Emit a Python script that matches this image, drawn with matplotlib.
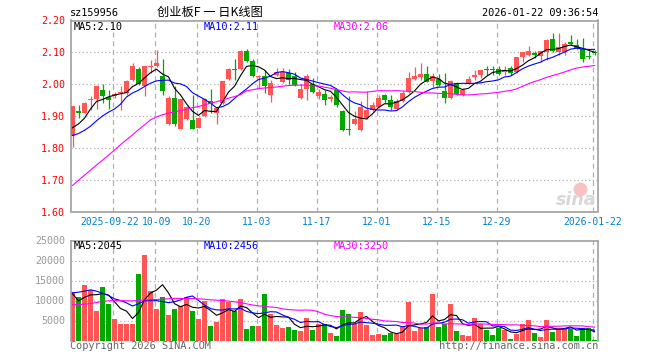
import matplotlib
matplotlib.use("Agg")
import matplotlib.pyplot as plt
import numpy as np

# ---------------- data ----------------
code = "sz159956"
title = "创业板F 一 日K线图"
stamp = "2026-01-22 09:36:54"

opens = [1.837, 1.917, 1.910, 1.949, 1.952, 1.983, 1.959, 1.962, 1.973, 1.973,
         2.014, 2.048, 1.993, 2.054, 2.056, 2.027, 1.875, 1.955, 1.860, 1.891,
         1.889, 1.863, 1.899, 1.946, 1.910, 1.941, 2.016, 2.048, 2.048, 2.103,
         2.072, 2.023, 2.025, 1.965, 2.030, 2.007, 2.035, 2.025, 1.957, 1.986,
         2.002, 1.962, 1.970, 1.952, 1.981, 1.917, 1.860, 1.876, 1.856, 1.894,
         1.920, 1.929, 1.965, 1.949, 1.923, 1.946, 1.976, 2.017, 2.022, 2.032,
         2.009, 2.017, 1.980, 1.955, 2.004, 1.965, 2.001, 2.023, 2.028, 2.049,
         2.049, 2.048, 2.038, 2.051, 2.037, 2.084, 2.093, 2.097, 2.088, 2.101,
         2.143, 2.101, 2.101, 2.131, 2.124, 2.110, 2.089, 2.102]
highs = [1.931, 1.936, 1.943, 1.962, 1.996, 2.002, 1.983, 1.975, 1.993, 2.014,
         2.067, 2.054, 2.058, 2.075, 2.106, 2.079, 1.962, 1.993, 1.954, 1.931,
         1.967, 1.897, 1.957, 1.985, 1.929, 2.011, 2.051, 2.079, 2.106, 2.112,
         2.079, 2.030, 2.046, 2.014, 2.051, 2.051, 2.048, 2.037, 1.999, 2.033,
         2.020, 1.985, 1.983, 1.967, 1.985, 1.920, 1.964, 1.915, 1.946, 1.978,
         1.943, 1.967, 1.969, 1.967, 1.952, 1.978, 2.037, 2.054, 2.065, 2.056,
         2.035, 2.032, 2.035, 2.014, 2.007, 1.988, 2.025, 2.043, 2.046, 2.058,
         2.058, 2.056, 2.056, 2.056, 2.084, 2.101, 2.121, 2.103, 2.105, 2.143,
         2.161, 2.161, 2.131, 2.155, 2.142, 2.145, 2.103, 2.106]
lows = [1.803, 1.894, 1.908, 1.920, 1.922, 1.941, 1.923, 1.957, 1.920, 1.967,
        2.009, 1.996, 1.962, 2.035, 2.054, 1.965, 1.873, 1.868, 1.858, 1.889,
        1.858, 1.861, 1.897, 1.908, 1.876, 1.939, 2.014, 2.014, 2.046, 2.070,
        2.023, 1.988, 1.973, 1.943, 2.025, 2.004, 1.999, 1.993, 1.952, 1.950,
        1.973, 1.952, 1.936, 1.943, 1.929, 1.852, 1.839, 1.871, 1.852, 1.891,
        1.915, 1.926, 1.941, 1.920, 1.920, 1.943, 1.973, 2.014, 2.014, 2.006,
        1.991, 1.993, 1.941, 1.952, 1.967, 1.962, 1.999, 2.014, 2.020, 2.030,
        2.030, 2.030, 2.030, 2.028, 2.035, 2.069, 2.090, 2.082, 2.069, 2.077,
        2.100, 2.093, 2.091, 2.124, 2.110, 2.069, 2.080, 2.093]
closes = [1.931, 1.910, 1.941, 1.954, 1.993, 1.962, 1.950, 1.969, 1.976, 2.011,
          2.056, 1.999, 2.056, 2.058, 2.067, 1.978, 1.957, 1.876, 1.952, 1.928,
          1.860, 1.894, 1.952, 1.939, 1.926, 2.009, 2.049, 2.044, 2.105, 2.072,
          2.025, 2.027, 1.993, 2.004, 2.038, 2.038, 2.014, 1.996, 1.986, 2.027,
          1.976, 1.975, 1.950, 1.959, 1.933, 1.856, 1.856, 1.892, 1.929, 1.920,
          1.936, 1.957, 1.950, 1.928, 1.946, 1.973, 2.020, 2.027, 2.033, 2.007,
          2.025, 1.996, 1.955, 2.011, 1.970, 1.983, 2.016, 2.030, 2.046, 2.046,
          2.046, 2.033, 2.046, 2.035, 2.084, 2.101, 2.103, 2.093, 2.105, 2.140,
          2.103, 2.117, 2.127, 2.127, 2.114, 2.079, 2.085, 2.097]
volumes = [12083, 11000, 14000, 12667, 7500, 13500, 9250, 5500, 4250, 4250,
           4250, 16750, 21500, 12500, 8000, 11000, 6500, 8000, 8750, 10833,
           7500, 5500, 10000, 3750, 4750, 10500, 9750, 7500, 10500, 3000,
           3750, 3750, 11750, 6750, 4000, 3250, 3500, 2750, 2500, 5750,
           2750, 4250, 4250, 2000, 1250, 7750, 6750, 4250, 7250, 4000,
           1500, 1750, 1500, 2000, 1750, 3500, 9750, 2500, 3250, 3500,
           11750, 3500, 4250, 9250, 2500, 1500, 1250, 5750, 4250, 2750,
           1500, 3250, 2750, 500, 1750, 4250, 5250, 2000, 1000, 5250,
           2250, 3250, 3250, 3000, 1250, 3250, 3250, 250]

# moving-average values before enough history is visible
ma5_head = [1.863, 1.875, 1.893, 1.922]
ma10_head = [1.839, 1.845, 1.855, 1.868, 1.885, 1.900, 1.912, 1.922, 1.937]
ma30_head = [1.682, 1.698, 1.714, 1.730, 1.746, 1.761, 1.777, 1.793, 1.810, 1.825,
             1.841, 1.857, 1.872, 1.888, 1.897, 1.904, 1.909, 1.913, 1.917, 1.921,
             1.926, 1.930, 1.935, 1.940, 1.945, 1.950, 1.956, 1.961, 1.967]
vma5_head = [11700, 9900, 10800, 11400]
vma10_head = [11917, 12083, 12333, 12667, 12333, 11833, 11250, 10417, 10000]
vma30_head = [8917, 9000, 9083, 9250, 9500, 9750, 9917, 10000, 10000, 9917,
              9917, 10000, 10167, 10250, 10250, 10333, 10417, 10500, 10500, 10500,
              10500, 10417, 10333, 10167, 10083, 10000, 9833, 9667, 9500]

tick_idx = [7, 14, 21, 31, 41, 51, 61, 71, 87]
tick_lab = ["2025-09-22", "10-09", "10-20", "11-03", "11-17", "12-01",
            "12-15", "12-29", "2026-01-22"]
price_ticks = [1.60, 1.70, 1.80, 1.90, 2.00, 2.10, 2.20]
vol_ticks = [5000, 10000, 15000, 20000, 25000]

ma_labels = ["MA5:2.10", "MA10:2.11", "MA30:2.06"]
vma_labels = ["MA5:2045", "MA10:2456", "MA30:3250"]

# ---------------- helpers ----------------
def ma(vals, n, head):
    v = np.asarray(vals, float)
    out = list(head)
    for i in range(len(head), len(v)):
        out.append(v[i - n + 1:i + 1].mean())
    return np.array(out)

W, H = 660, 360
fig = plt.figure(figsize=(W / 100, H / 100), dpi=100)
fig.patch.set_facecolor("white")

def rect(x0, y0, x1, y1):
    return [x0 / W, 1 - y1 / H, (x1 - x0) / W, (y1 - y0) / H]

def ftext(x, y, s, **kw):
    fig.text(x / W, 1 - y / H, s, **kw)

RED = "#ff5555"
GREEN = "#00a800"
FRAME = "#a0a0a0"
GRID = "#b0b0b0"
MONO = "DejaVu Sans Mono"
TICKBLUE = "#0080d0"

n = len(closes)
x = np.arange(n)
XL = (-1 / 3, 87.5)

ax = fig.add_axes(rect(70.5, 20.5, 597.5, 211.5))
axv = fig.add_axes(rect(70.5, 240.5, 597.5, 340.5))

for a in (ax, axv):
    a.set_xlim(*XL)
    for s in a.spines.values():
        s.set_color(FRAME)
        s.set_linewidth(1.2)
    a.tick_params(length=0)
    a.set_xticks([])
    for t in tick_idx:
        a.axvline(t - 1 / 3, color=GRID, lw=0.9, ls=(0, (4, 3)), zorder=0)

# ---- price panel ----
ax.set_ylim(1.60, 2.20)
ax.set_yticks(price_ticks)
ax.set_yticklabels([f"{p:.2f}" for p in price_ticks], color="#ff0000",
                   family=MONO, fontsize=7.2)
ax.tick_params(axis="y", pad=4)
for p in price_ticks[1:-1]:
    ax.axhline(p, color=GRID, lw=0.9, ls=(0, (1, 2)), zorder=0)

o = np.array(opens); c = np.array(closes); hi = np.array(highs); lo = np.array(lows)
up = c >= o
cols = np.where(up, RED, GREEN)
ax.vlines(x, lo, hi, colors=cols, lw=0.9, zorder=2)
body_h = np.where(np.abs(c - o) < 0.003, 0.003, np.abs(c - o))
body_b = np.where(np.abs(c - o) < 0.003, (c + o) / 2 - 0.0015, np.minimum(c, o))
ax.bar(x, body_h, bottom=body_b, width=0.8, color=cols, lw=0, zorder=3)

ax.plot(x, ma(closes, 5, ma5_head), color="black", lw=0.8, zorder=4)
ax.plot(x, ma(closes, 10, ma10_head), color="#0000ff", lw=0.8, zorder=4)
ax.plot(x, ma(closes, 30, ma30_head), color="#ff00ff", lw=0.8, zorder=4)

# sina watermark
ax.text(87.3, 1.637, "sina", color="#d8d8d8", fontsize=12.5, fontweight="bold",
        style="italic", ha="right", va="center", zorder=1)
ax.scatter([84.6], [1.672], s=100, color="#f7c2c2", zorder=1, lw=0)

# ---- volume panel ----
axv.set_ylim(0, 25000)
axv.set_yticks(vol_ticks)
axv.set_yticklabels([str(v) for v in vol_ticks], color="#999999",
                    family=MONO, fontsize=7.2)
axv.tick_params(axis="y", pad=4)
for v in vol_ticks[:-1]:
    axv.axhline(v, color=GRID, lw=0.9, ls=(0, (1, 2)), zorder=0)
axv.bar(x, volumes, width=0.8, color=cols, lw=0, zorder=2)
axv.plot(x, ma(volumes, 5, vma5_head), color="black", lw=0.8, zorder=4)
axv.plot(x, ma(volumes, 10, vma10_head), color="#0000ff", lw=0.8, zorder=4)
axv.plot(x, ma(volumes, 30, vma30_head), color="#ff00ff", lw=0.8, zorder=4)
axv.spines["bottom"].set_visible(False)

# ---- texts ----
ftext(70, 13, code, family=MONO, fontsize=7.4, color="black", va="center")
ftext(210, 12, title, family=["Noto Sans CJK SC", "DejaVu Sans"], fontsize=8.8,
      color="black", ha="center", va="center")
ftext(598, 13, stamp, family=MONO, fontsize=7.4, color="black", ha="right", va="center")

ma_cols = ["black", "#0000ff", "#ff00ff"]
for xx, s, cc in zip([74, 204, 334], ma_labels, ma_cols):
    ftext(xx, 27, s, family=MONO, fontsize=7.4, color=cc, va="center")
for xx, s, cc in zip([74, 204, 334], vma_labels, ma_cols):
    ftext(xx, 246, s, family=MONO, fontsize=7.4, color=cc, va="center")

for t, s in zip(tick_idx, tick_lab):
    px = 70.5 + (t - 1 / 3 - XL[0]) * 6
    if t == tick_idx[0]:
        ftext(139.5, 222, s, family=MONO, fontsize=7.0, color=TICKBLUE,
              ha="right", va="center")
    elif t == tick_idx[1]:
        ftext(141.5, 222, s, family=MONO, fontsize=7.0, color=TICKBLUE,
              ha="left", va="center")
    else:
        ftext(px, 222, s, family=MONO, fontsize=7.0, color=TICKBLUE,
              ha="center", va="center")

ftext(70, 346, "Copyright 2026 SINA.COM", family=MONO, fontsize=7.4,
      color="#666666", va="center")
ftext(598, 346, "http://finance.sina.com.cn", family=MONO, fontsize=7.4,
      color="#666666", ha="right", va="center")

fig.savefig("out.png", dpi=100, facecolor="white")
